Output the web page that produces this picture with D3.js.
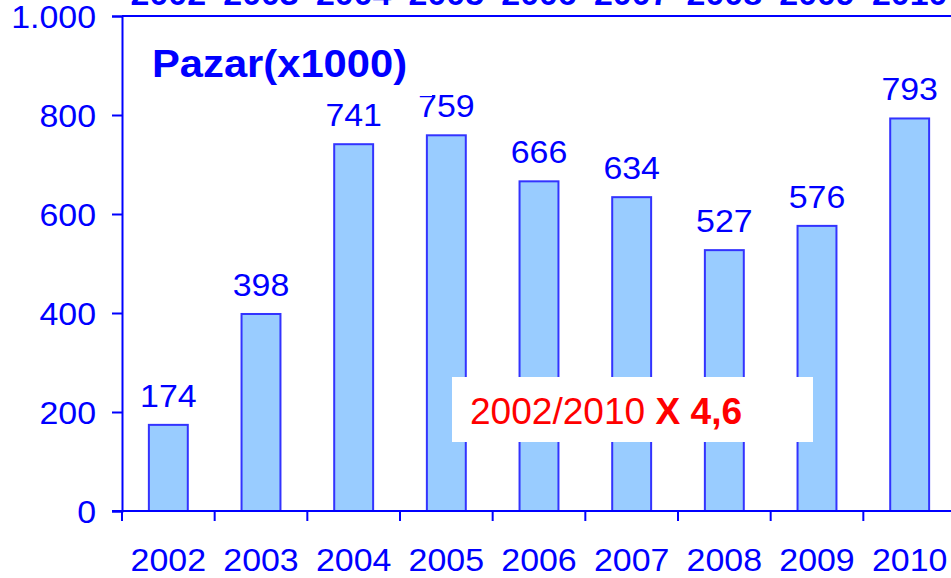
<!DOCTYPE html>
<html>
<head>
<meta charset="utf-8">
<script src="https://cdn.jsdelivr.net/npm/d3@7"></script>
<style>
  body { margin: 0; background: #fff; }
  text { font-family: "Liberation Sans", Arial, sans-serif; }
</style>
</head>
<body>
<div id="chart-area"></div>
<script>
// data
var years = ["2002", "2003", "2004", "2005", "2006", "2007", "2008", "2009", "2010"];
var values = [174, 398, 741, 759, 666, 634, 527, 576, 793];
var yTicks = [0, 200, 400, 600, 800, 1000];
var yTickLabels = ["0", "200", "400", "600", "800", "1.000"];

var W = 951, H = 578;
var blue = "#0000ff";
var sx = 1.06; // text in the original is a bit wide

var svg = d3.select("#chart-area")
    .append("svg")
    .attr("width", W)
    .attr("height", H);

// scales
var x = d3.scaleBand()
    .domain(years)
    .range([122, 956])
    .paddingInner(0.58)
    .paddingOuter(0.29);

var y = d3.scaleLinear()
    .domain([0, 1000])
    .range([511, 16]);

// cut-off year labels from the chart above
svg.append("g").selectAll("text")
    .data(years)
    .enter()
    .append("text")
    .attr("transform", d => "translate(" + (x(d) + x.bandwidth() / 2) + ",5) scale(" + sx + ",1)")
    .attr("text-anchor", "middle")
    .attr("font-size", "32px")
    .attr("font-weight", "bold")
    .attr("fill", blue)
    .text(d => d);

// top frame line
svg.append("line")
    .attr("x1", 122).attr("x2", W)
    .attr("y1", y(1000)).attr("y2", y(1000))
    .attr("stroke", blue).attr("stroke-width", 2);

// bars
svg.append("g").selectAll("rect")
    .data(values)
    .enter()
    .append("rect")
    .attr("x", (d, i) => x(years[i]))
    .attr("y", d => y(d))
    .attr("width", x.bandwidth())
    .attr("height", d => y(0) - y(d))
    .attr("fill", "#99ccff")
    .attr("stroke", "#3333ff")
    .attr("stroke-width", 2);

// y axis
var yAxis = d3.axisLeft(y)
    .tickValues(yTicks)
    .tickSize(10)
    .tickFormat((d, i) => yTickLabels[i])
    .tickPadding(15);

var gy = svg.append("g")
    .attr("transform", "translate(122,0)")
    .call(yAxis);
gy.select(".domain").attr("stroke", blue).attr("stroke-width", 2);
gy.selectAll(".tick line").attr("stroke", blue).attr("stroke-width", 2);
gy.selectAll(".tick text")
    .attr("font-size", "32px")
    .attr("font-family", "Liberation Sans, Arial, sans-serif")
    .attr("fill", blue)
    .attr("x", -26 / sx)
    .attr("transform", "scale(" + sx + ",1)")
    .attr("dy", "0.36em");

// x axis line and ticks at band edges
var edges = years.map(d => x(d) - x.step() * x.paddingOuter());
svg.append("line")
    .attr("x1", 112).attr("x2", W)
    .attr("y1", y(0)).attr("y2", y(0))
    .attr("stroke", blue).attr("stroke-width", 2);
svg.append("g").selectAll("line")
    .data(edges)
    .enter()
    .append("line")
    .attr("x1", d => d).attr("x2", d => d)
    .attr("y1", y(0)).attr("y2", y(0) + 10)
    .attr("stroke", blue).attr("stroke-width", 2);

// year labels
svg.append("g").selectAll("text")
    .data(years)
    .enter()
    .append("text")
    .attr("transform", d => "translate(" + (x(d) + x.bandwidth() / 2) + ",571) scale(" + sx + ",1)")
    .attr("text-anchor", "middle")
    .attr("font-size", "32px")
    .attr("fill", blue)
    .text(d => d);

// value labels
svg.append("g").selectAll("text")
    .data(values)
    .enter()
    .append("text")
    .attr("transform", (d, i) => "translate(" + (x(years[i]) + x.bandwidth() / 2) + "," + (y(d) - 18) + ") scale(" + sx + ",1)")
    .attr("text-anchor", "middle")
    .attr("font-size", "32px")
    .attr("fill", blue)
    .text(d => d);

// title box (hides top of one value label, like the original)
svg.append("rect")
    .attr("x", 140).attr("y", 28)
    .attr("width", 292).attr("height", 68)
    .attr("fill", "#fff");
svg.append("text")
    .attr("transform", "translate(152,77) scale(1.07,1)")
    .attr("font-size", "39px")
    .attr("font-weight", "bold")
    .attr("fill", blue)
    .text("Pazar(x1000)");

// ratio annotation
svg.append("rect")
    .attr("x", 452).attr("y", 377)
    .attr("width", 361).attr("height", 65)
    .attr("fill", "#fff");
var note = svg.append("text")
    .attr("transform", "translate(470,424) scale(1.03,1)")
    .attr("font-size", "36px")
    .attr("fill", "#ff0000");
note.append("tspan").text("2002/2010 ");
note.append("tspan").attr("font-weight", "bold").text("X 4,6");
</script>
</body>
</html>
